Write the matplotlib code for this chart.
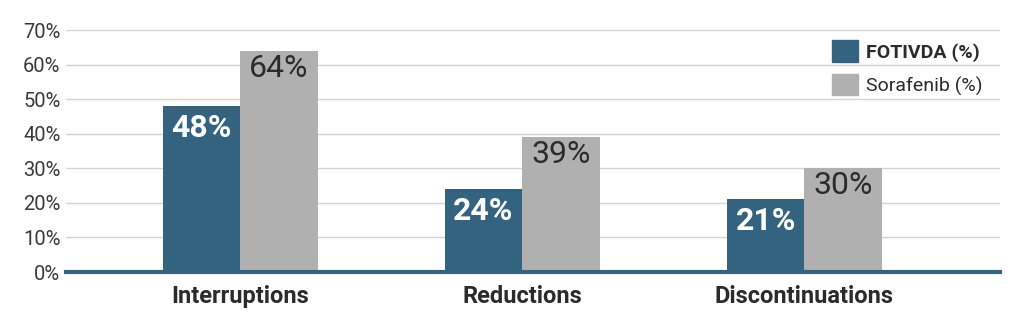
import numpy as np
from matplotlib import pyplot as plt
from matplotlib.patches import Patch

# Data
categories = ['Interruptions', 'Reductions', 'Discontinuations']
fotivda = [48, 24, 21]
sorafenib = [64, 39, 30]
yticks = [0, 10, 20, 30, 40, 50, 60, 70]

blue = '#33637f'
gray = '#b0b0b0'
text_dark = '#2b2b2b'

plt.rcParams['font.family'] = ['Roboto', 'DejaVu Sans']

fig = plt.figure(figsize=(10.24, 3.27), dpi=100)
ax = fig.add_axes([0.0645, 0.168, 0.9125, 0.740])

x = np.arange(len(categories))
w = 0.275
b1 = ax.bar(x - w / 2, fotivda, w, color=blue, zorder=3)
b2 = ax.bar(x + w / 2, sorafenib, w, color=gray, zorder=3)

for rect, v in zip(b1, fotivda):
    ax.text(rect.get_x() + rect.get_width() / 2, v - 1.9, f'{v}%',
            ha='center', va='top', color='white', fontsize=23, fontweight='bold', zorder=4)
for rect, v in zip(b2, sorafenib):
    ax.text(rect.get_x() + rect.get_width() / 2, v - 0.9, f'{v}%',
            ha='center', va='top', color=text_dark, fontsize=23, zorder=4)

ax.set_xlim(-0.617, 2.695)
ax.set_ylim(0, 70)
ax.set_yticks(yticks)
ax.set_yticklabels([f'{t}%' for t in yticks], fontsize=14.5, color='#3a3a3a')
ax.set_xticks(x)
ax.set_xticklabels(categories, fontsize=17, fontweight='bold', color=text_dark)
ax.tick_params(axis='both', length=0)
ax.tick_params(axis='x', pad=9)
ax.tick_params(axis='y', pad=4)

ax.grid(axis='y', color='#d3d3d3', linewidth=1, zorder=0)
for s in ['top', 'right', 'left']:
    ax.spines[s].set_visible(False)
ax.spines['bottom'].set_color(blue)
ax.spines['bottom'].set_linewidth(3)
ax.spines['bottom'].set_zorder(5)

handles = [Patch(color=blue), Patch(color=gray)]
leg = ax.legend(handles, ['FOTIVDA (%)', 'Sorafenib (%)'], loc='upper right',
                bbox_to_anchor=(1.0, 1.03), frameon=False, fontsize=14,
                handlelength=1.3, handleheight=1.3, handletextpad=0.45,
                labelspacing=0.65)
leg.get_texts()[0].set_fontweight('bold')
for t in leg.get_texts():
    t.set_color(text_dark)

fig.savefig('out.png', dpi=100)
